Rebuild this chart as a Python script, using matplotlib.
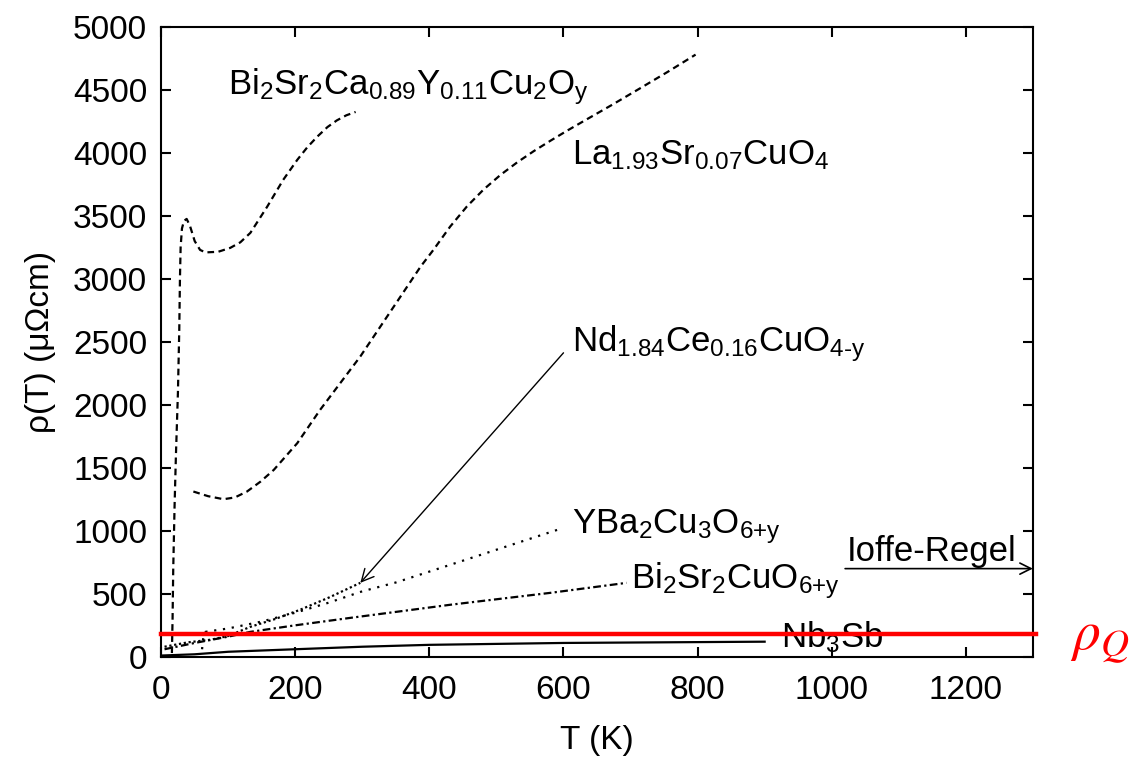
import matplotlib
matplotlib.use("Agg")
import matplotlib.pyplot as plt

# Schriften: Helvetica-aehnlich
plt.rcParams['font.family'] = ['Liberation Sans', 'DejaVu Sans']
plt.rcParams['mathtext.fontset'] = 'custom'
plt.rcParams['mathtext.rm'] = 'Liberation Sans'
plt.rcParams['mathtext.it'] = 'Liberation Sans:italic'

# Daten, T in K, rho in muOhm cm
T_bi2212 = [16, 17, 18, 20, 22, 25, 27, 28, 29, 31, 34, 38, 43, 50, 58, 66, 85, 103, 118, 133,
            158, 182, 203, 218, 233, 248, 262, 276, 290]
rho_bi2212 = [30, 300, 700, 1200, 1600, 2100, 2600, 3000, 3250, 3400, 3460, 3476, 3420, 3300,
              3230, 3210, 3215, 3246, 3290, 3365, 3572, 3786, 3945, 4045, 4130, 4205, 4258,
              4298, 4325]

T_la214 = [48, 70, 93, 110, 128, 148, 168, 203, 237, 267, 297, 327, 357, 387, 406, 431, 456,
           481, 506, 531, 556, 581, 605, 630, 672, 715, 756, 797]
rho_la214 = [1312, 1275, 1251, 1265, 1312, 1390, 1484, 1696, 1960, 2172, 2384, 2622, 2860,
             3098, 3230, 3415, 3575, 3710, 3825, 3925, 4015, 4098, 4175, 4252, 4380, 4515,
             4645, 4780]

T_ybco = [61, 62, 63, 66, 100, 150, 200, 250, 300, 350, 431, 500, 591]
rho_ybco = [60, 120, 160, 198, 225, 280, 350, 430, 520, 590, 730, 850, 1008]

T_nd = [5, 40, 73, 100, 133, 170, 207, 250, 297]
rho_nd = [80, 115, 135, 165, 238, 300, 373, 470, 587]

T_bi2201 = [5, 50, 100, 133, 200, 282, 431, 581, 694]
rho_bi2201 = [60, 110, 160, 198, 250, 309, 413, 508, 587]

T_nb3sb = [0, 50, 100, 200, 300, 400, 600, 900]
rho_nb3sb = [10, 20, 40, 60, 80, 95, 110, 120]

rho_Q = 183

fig = plt.figure(figsize=(11.35, 7.58), dpi=100)
ax = fig.add_axes([0.142, 0.1335, 0.768, 0.831])

lw = 1.6
ax.plot(T_bi2212, rho_bi2212, color='black', lw=lw, dashes=(3, 2))
ax.plot(T_la214, rho_la214, color='black', lw=lw, dashes=(3, 2))
ax.plot(T_ybco, rho_ybco, color='black', lw=lw, dashes=(1, 3))
ax.plot(T_nd, rho_nd, color='black', lw=lw, dashes=(1, 1.2))
ax.plot(T_bi2201, rho_bi2201, color='black', lw=lw, dashes=(3.5, 1.5, 1, 1.5))
ax.plot(T_nb3sb, rho_nb3sb, color='black', lw=lw)

# rote Linie rho_Q
ax.plot([0, 1305], [rho_Q, rho_Q], color='red', lw=3.2, clip_on=False, zorder=5)
ax.text(1355, 55, r'$\rho_Q$', color='red', fontsize=40, math_fontfamily='stix',
        va='baseline', ha='left', clip_on=False)

# Beschriftungen der Kurven
fs = 25
ax.text(100, 4525, r'Bi$_2$Sr$_2$Ca$_{0.89}$Y$_{0.11}$Cu$_2$O$_\mathrm{y}$', fontsize=fs, va='center')
ax.text(612, 3985, r'La$_{1.93}$Sr$_{0.07}$CuO$_4$', fontsize=fs, va='center')
ax.text(612, 2490, r'Nd$_{1.84}$Ce$_{0.16}$CuO$_\mathrm{4\text{-}y}$', fontsize=fs, va='center')
ax.text(612, 1030, r'YBa$_2$Cu$_3$O$_\mathrm{6{+}y}$', fontsize=fs, va='center')
ax.text(701, 605, r'Bi$_2$Sr$_2$CuO$_\mathrm{6{+}y}$', fontsize=fs, va='center')
ax.text(924, 160, r'Nb$_3$Sb', fontsize=fs, va='center')
ax.text(1022, 705, 'Ioffe-Regel', fontsize=fs, va='bottom')

# Pfeile
ax.annotate('', xy=(1300, 700), xytext=(1020, 700),
            arrowprops=dict(arrowstyle='->', color='black', lw=1.2, mutation_scale=20,
                            shrinkA=0, shrinkB=0))
ax.annotate('', xy=(297, 587), xytext=(600, 2413),
            arrowprops=dict(arrowstyle='->', color='black', lw=1.0, mutation_scale=22,
                            shrinkA=0, shrinkB=0))

ax.set_xlim(0, 1300)
ax.set_ylim(0, 5000)
ax.set_xticks(range(0, 1201, 200))
ax.set_yticks(range(0, 5001, 500))
ax.tick_params(direction='in', length=7, width=1.5, top=True, right=True, labelsize=24)
ax.tick_params(axis='x', pad=13)
ax.tick_params(axis='y', pad=10)
for s in ax.spines.values():
    s.set_linewidth(1.5)

ax.set_xlabel('T (K)', fontsize=24, labelpad=14)
ax.set_ylabel('ρ(T) (μΩcm)', fontsize=24, labelpad=12)

fig.savefig('out.png', dpi=100)
